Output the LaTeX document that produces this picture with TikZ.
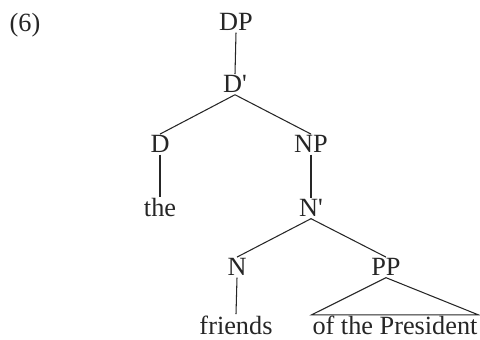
\documentclass[tikz,border=0pt]{standalone}
\usepackage{fontspec}
\setmainfont{Liberation Serif}
\begin{document}
\begin{tikzpicture}[
  every node/.style={font=\fontsize{18.7}{22}\selectfont, text=black!85, inner sep=1pt, anchor=base},
  branch/.style={draw=black!85, line width=0.75pt}
]
\useasboundingbox (0,0) rectangle (12,-8.5);
\node[anchor=base west] (ex) at (0.2,-0.8) {(6)};
\node (dp) at (5.9,-0.775) {DP};
\node (dbar) at (5.875,-2.325) {D\textquotesingle};
\node (d) at (4.0,-3.825) {D};
\node (np) at (7.775,-3.825) {NP};
\node (the) at (4.0,-5.425) {the};
\node (nbar) at (7.775,-5.425) {N\textquotesingle};
\node (n) at (5.925,-6.9) {N};
\node (pp) at (9.65,-6.9) {PP};
\node (friends) at (5.9,-8.36) {friends};
\node[inner sep=0.5pt] (ofp) at (9.875,-8.36) {of the President};
\draw[branch] (dp.south) -- (dbar.north);
\draw[branch] (dbar.south) -- (d.north);
\draw[branch] (dbar.south) -- (np.north);
\draw[branch] (d.south) -- (the.north);
\draw[branch] (np.south) -- (nbar.north);
\draw[branch] (nbar.south) -- (n.north);
\draw[branch] (nbar.south) -- (pp.north);
\draw[branch] (n.south) -- (friends.north);
\draw[branch] (pp.south) -- (ofp.north west) -- (ofp.north east) -- cycle;
\end{tikzpicture}
\end{document}
